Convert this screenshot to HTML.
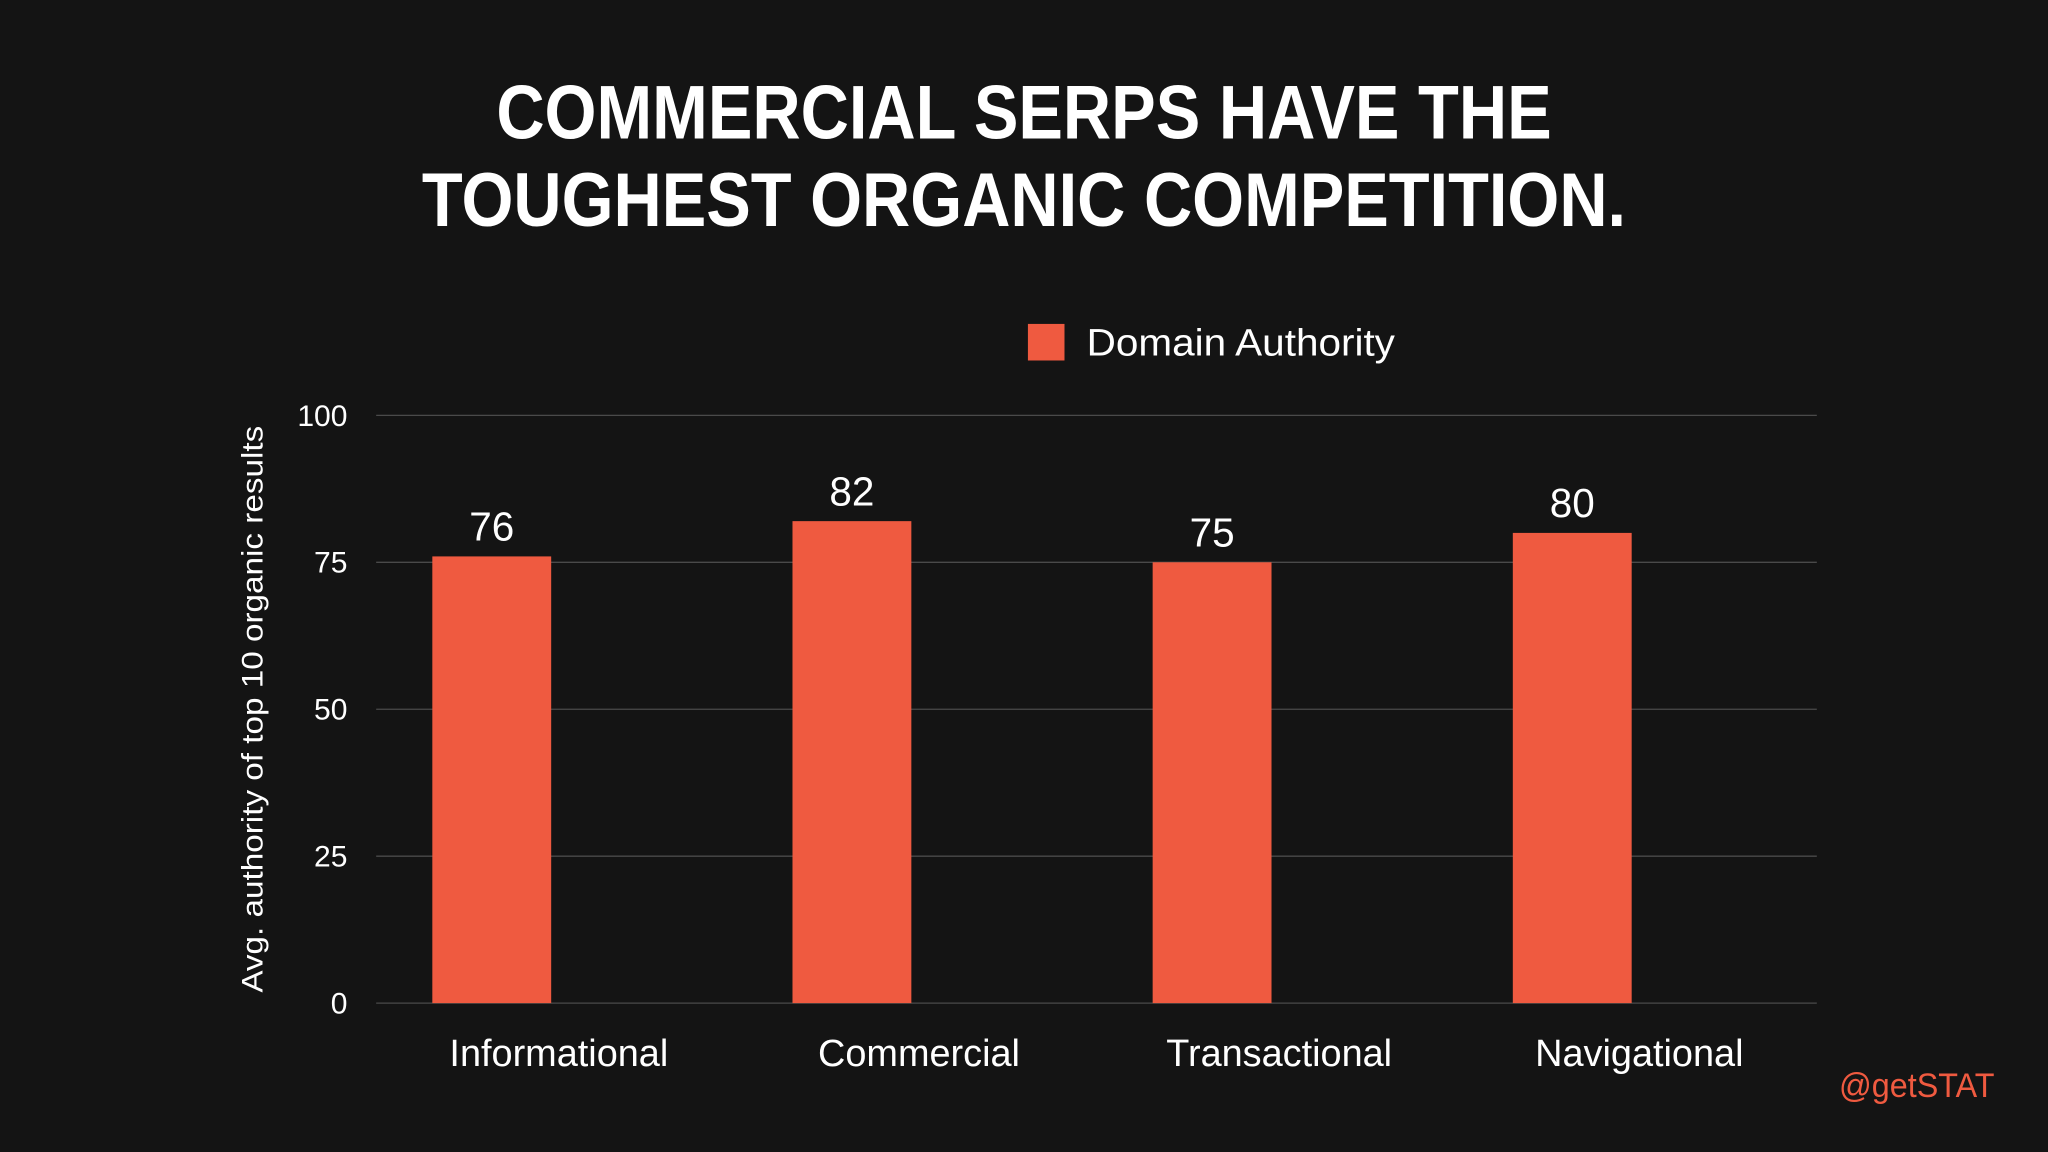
<!DOCTYPE html>
<html><head><meta charset="utf-8"><style>
html,body{margin:0;padding:0;background:#141414;}
svg{display:block;}
text{font-family:"Liberation Sans",sans-serif;}
</style></head><body>
<svg id="chart" width="2048" height="1152" viewBox="0 0 1568 882" xmlns="http://www.w3.org/2000/svg">
<rect width="1568" height="882" fill="#141414"/>
<text x="784" y="106" text-anchor="middle" fill="#fff" font-size="58" font-weight="bold" textLength="808" lengthAdjust="spacingAndGlyphs">COMMERCIAL SERPS HAVE THE</text>
<text x="784" y="173" text-anchor="middle" fill="#fff" font-size="58" font-weight="bold" textLength="922" lengthAdjust="spacingAndGlyphs">TOUGHEST ORGANIC COMPETITION.</text>
<rect x="787" y="248" width="28" height="28" fill="#ef5a40"/>
<text x="832" y="272" fill="#fff" font-size="29" textLength="236" lengthAdjust="spacingAndGlyphs">Domain Authority</text>
<text transform="translate(201,543) rotate(-90)" text-anchor="middle" fill="#fff" font-size="23" textLength="434" lengthAdjust="spacingAndGlyphs">Avg. authority of top 10 organic results</text>
<g id="grid"></g><g id="bars"></g>
<text x="1527" y="840" text-anchor="end" fill="#ef5a40" font-size="26" textLength="119" lengthAdjust="spacingAndGlyphs">@getSTAT</text>
</svg>
<script>
const categories=["Informational","Commercial","Transactional","Navigational"];
const values=[76,82,75,80];
const ticks=[0,25,50,75,100];
const NS="http://www.w3.org/2000/svg";
const x0=288,x1=1391,y0=768,y100=318;
const ys=v=>y0-(v/100)*(y0-y100);
const band=(x1-x0)/categories.length;
const grid=document.getElementById('grid'),bars=document.getElementById('bars');
function mk(tag,attrs,txt){const e=document.createElementNS(NS,tag);for(const k in attrs)e.setAttribute(k,attrs[k]);if(txt!==undefined)e.textContent=txt;return e;}
ticks.forEach(t=>{
 const l=mk('line',{x1:x0,x2:x1,y1:ys(t),y2:ys(t),stroke:'#4a4a4a','stroke-width':1});
 
 
 grid.appendChild(l);
 const tx=mk('text',{x:266,y:ys(t)+8,'text-anchor':'end',fill:'#fff','font-size':23},String(t));
 
 
 grid.appendChild(tx);
});
categories.forEach((c,i)=>{
 const bx=x0+i*band+43,bw=91,v=values[i];
 const r=mk('rect',{x:bx,y:ys(v),width:bw,height:y0-ys(v),fill:'#ef5a40'});
 
 
 bars.appendChild(r);
 const vl=mk('text',{x:bx+bw/2,y:ys(v)-12,'text-anchor':'middle',fill:'#fff','font-size':31},String(v));
 
 
 bars.appendChild(vl);
 const cl=mk('text',{x:x0+i*band+band/2+2,y:816,'text-anchor':'middle',fill:'#fff','font-size':29},c);
 
 
 bars.appendChild(cl);
});
</script>
</body></html>
